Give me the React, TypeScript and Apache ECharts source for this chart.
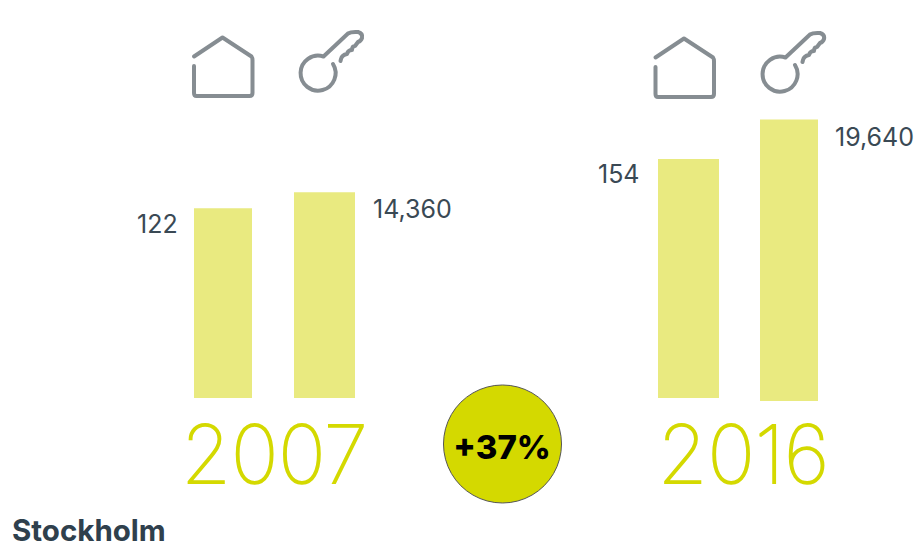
import React, { useEffect, useRef } from "react";
import * as echarts from "echarts";

const years = ["2007", "2016"];
const dwellings = [122, 154];
const prices = [14360, 19640];
const change = "+37%";
const place = "Stockholm";

const HOUSE = "M1.5 20.5 L30 1.5 L59 20.5 Q60 22 60 24 L60 57 Q60 60 57 60 L4 60 Q1.5 60 1.5 57 L1.5 30";
const KEY = "M35 33 A17.5 17.5 0 1 1 25.5 25.5 L50 2.5 Q53 0.5 60 1 Q65 2.5 64 7 Q63 10 60 11 L57 15 Q54 15 54 19 Q50 19 49 23 Q44 24 43 28 L42.5 30";
echarts.graphic.registerShape("houseIcon", echarts.graphic.extendPath(HOUSE, {}));
echarts.graphic.registerShape("keyIcon", echarts.graphic.extendPath(KEY, {}));

const FONT = "Inter";
const BAR = "#e9ea80";
const LIME = "#d4d900";
const GREY = "#868d92";
const INK = "#3a4954";

function barParts(i: number, year: string, value: number, max: number, g: any, labelPos: number[]) {
  return {
    grid: { left: g.left, width: g.width, top: g.top, height: g.height, containLabel: false },
    xAxis: { gridIndex: i, type: "category", data: [year], show: false },
    yAxis: { gridIndex: i, type: "value", min: 0, max, show: false },
    series: {
      type: "bar",
      xAxisIndex: i,
      yAxisIndex: i,
      data: [value],
      barWidth: "100%",
      itemStyle: { color: BAR },
      label: {
        show: true,
        position: labelPos,
        formatter: (p: any) => Number(p.value).toLocaleString("en-US"),
        color: INK,
        fontFamily: FONT,
        fontSize: 25,
      },
    },
  };
}

export default function App() {
  const ref = useRef<HTMLDivElement>(null);
  useEffect(() => {
    const chart = echarts.init(ref.current!, undefined, { renderer: "svg" });
    const parts = [
      barParts(0, years[0], dwellings[0], 191.5, { left: 194, width: 58, top: 100, height: 298 }, [-57, 3]),
      barParts(1, years[0], prices[0], 21000, { left: 294, width: 61, top: 97, height: 301 }, [79, 4]),
      barParts(2, years[1], dwellings[1], 192, { left: 658, width: 61, top: 100, height: 298 }, [-60, 3]),
      barParts(3, years[1], prices[1], 21000, { left: 760, width: 58, top: 100, height: 301 }, [75, 5]),
    ];
    const icon = (type: string, x: number, y: number) => ({
      type, x, y,
      style: { fill: "none", stroke: GREY, lineWidth: 4, lineCap: "round", lineJoin: "round" },
    });
    const yearStyle = { fill: LIME, stroke: LIME, lineWidth: 2, font: `100 80px Inter`, align: "center", verticalAlign: "middle" };
    chart.setOption({
      animation: false,
      backgroundColor: "#ffffff",
      grid: parts.map((p) => p.grid),
      xAxis: parts.map((p) => p.xAxis),
      yAxis: parts.map((p) => p.yAxis),
      series: parts.map((p) => p.series),
      graphic: [
        icon("houseIcon", 192.5, 36),
        icon("keyIcon", 298, 31),
        icon("houseIcon", 654, 37),
        icon("keyIcon", 760, 32),
        { type: "circle", shape: { cx: 502.5, cy: 444, r: 59 }, style: { fill: LIME, stroke: "#555", lineWidth: 1 } },
        { type: "text", x: 502, y: 447, style: { text: change, fill: "#000", font: `800 33px ${FONT}`, align: "center", verticalAlign: "middle" } },
        { type: "text", x: 274.5, y: 453, style: { text: years[0], ...yearStyle } },
        { type: "text", x: 743.5, y: 453, style: { text: years[1], ...yearStyle } },
        { type: "text", x: 12, y: 530, style: { text: place, fill: "#2f404d", font: `700 29.5px ${FONT}`, align: "left", verticalAlign: "middle" } },
      ],
    });
    return () => chart.dispose();
  }, []);
  return <div ref={ref} style={{ position: "fixed", left: 0, top: 0, width: 919, height: 548 }} />;
}
